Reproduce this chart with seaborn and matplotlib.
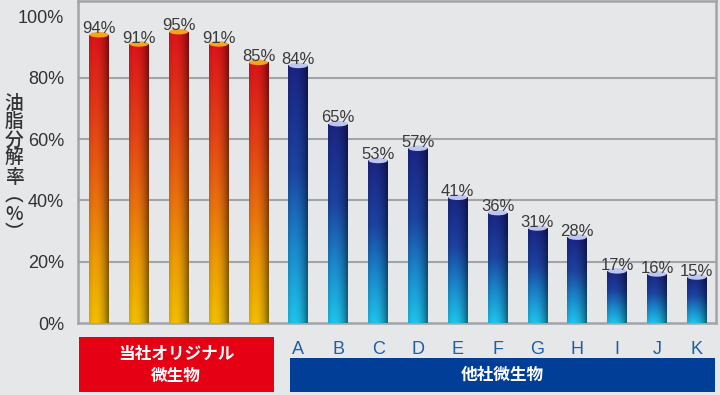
import numpy as np
import pandas as pd
import matplotlib
matplotlib.use("Agg")
import matplotlib.pyplot as plt
import seaborn as sns
from matplotlib.colors import to_rgb
from matplotlib.patches import Ellipse, Rectangle

# data
own_names = ["O1", "O2", "O3", "O4", "O5"]
own_values = [94, 91, 95, 91, 85]
other_names = ["A", "B", "C", "D", "E", "F", "G", "H", "I", "J", "K"]
other_values = [84, 65, 53, 57, 41, 36, 31, 28, 17, 16, 15]
yticks = [0, 20, 40, 60, 80, 100]

df = pd.DataFrame({
    "name": own_names + other_names,
    "value": own_values + other_values,
    "group": ["own"] * len(own_names) + ["other"] * len(other_names),
})

BG = "#e6e7e9"
GRID = "#a3a4a7"
red_stops = [(0.0, "#f9c400"), (0.22, "#f5a006"), (0.45, "#f0700f"),
             (0.68, "#eb4515"), (1.0, "#e3141c")]
blue_stops = [(0.0, "#1fcaf3"), (0.3, "#1b8bd2"), (0.6, "#1d45a6"), (1.0, "#1b2585")]
cap_col = {"own": "#f6a41c", "other": "#bcc6ee"}


def gradient(stops, n=120, m=40):
    t = np.linspace(0, 1, n)
    pos = [s[0] for s in stops]
    cols = np.array([to_rgb(s[1]) for s in stops])
    vert = np.stack([np.interp(t, pos, cols[:, k]) for k in range(3)], axis=1)
    u = np.linspace(0, 1, m)
    shade = 1.0 - 0.5 * u ** 3 - 0.15 * (1 - u) ** 6
    img = vert[:, None, :] * shade[None, :, None]
    return np.clip(img, 0, 1)


sns.set_style("white")
plt.rcParams["font.family"] = ["Liberation Sans", "Noto Sans CJK JP"]

fig = plt.figure(figsize=(7.2, 3.95), dpi=100)
fig.patch.set_facecolor(BG)
ax = fig.add_axes([78 / 720, 72 / 395, 638 / 720, 322 / 395])
ax.set_facecolor(BG)

sns.barplot(data=df, x="name", y="value", order=df["name"], width=0.5,
            color="#cccccc", ax=ax, zorder=3)

for i, (patch, val, grp) in enumerate(zip(ax.patches, df["value"], df["group"])):
    x0, w = patch.get_x(), patch.get_width()
    patch.set_facecolor("none")
    patch.set_edgecolor("none")
    img = gradient(red_stops if grp == "own" else blue_stops)
    im = ax.imshow(img, extent=[x0, x0 + w, 0, val], origin="lower",
                   aspect="auto", zorder=3, interpolation="bilinear")
    im.set_clip_path(patch)
    ax.add_patch(Ellipse((x0 + w / 2, val), w * 0.96, 1.8,
                         facecolor=cap_col[grp], edgecolor="none", zorder=4))
    ax.text(x0 + w / 2, val + 1.9, f"{val}%", ha="center", va="center",
            fontsize=12, color="#3a3a3a", zorder=5)

ax.set_xlim(-0.53, 15.48)
ax.set_ylim(0, 105)
ax.set_yticks(yticks)
ax.set_yticklabels([f"{t}%" for t in yticks], fontsize=13, color="#333333")
ax.tick_params(axis="y", length=0, pad=10)
for t in [20, 40, 60, 80]:
    ax.axhline(t, color=GRID, lw=1.5, zorder=1)

ax.set_xticks(range(len(df)))
ax.set_xticklabels([""] * len(own_names) + other_names, fontsize=13,
                   color="#1c5ea8")
ax.tick_params(axis="x", length=0, pad=13)
ax.set_xticks(np.arange(0.5, len(df) - 1, 1.0), minor=True)
ax.tick_params(axis="x", which="minor", direction="in", length=5,
               width=1.2, color=GRID)
ax.set_xlabel("")
ax.set_ylabel("")
for s in ax.spines.values():
    s.set_color(GRID)
    s.set_linewidth(1.8)

# vertical y label
fig.text(14 / 720, 1 - 168 / 395, "油\n脂\n分\n解\n率\n︵\n%\n︶",
         ha="center", va="center", fontsize=13.5, color="#333333",
         family=["Noto Sans CJK JP"], weight="medium", linespacing=0.97)

# group boxes under the axis
fig.add_artist(Rectangle((79 / 720, 3 / 395), 195 / 720, 55 / 395,
                         transform=fig.transFigure, facecolor="#e60013",
                         edgecolor="none"))
fig.text(176 / 720, 1 - 365 / 395, "当社オリジナル\n微生物", ha="center",
         va="center", fontsize=12, color="white", linespacing=1.25,
         family=["Noto Sans CJK JP"], weight="bold")
fig.add_artist(Rectangle((290 / 720, 3 / 395), 425 / 720, 34 / 395,
                         transform=fig.transFigure, facecolor="#003e98",
                         edgecolor="none"))
fig.text(502 / 720, 1 - 375 / 395, "他社微生物", ha="center", va="center",
         fontsize=12, color="white", family=["Noto Sans CJK JP"], weight="bold")

fig.savefig("out.png", dpi=100, facecolor=BG)
